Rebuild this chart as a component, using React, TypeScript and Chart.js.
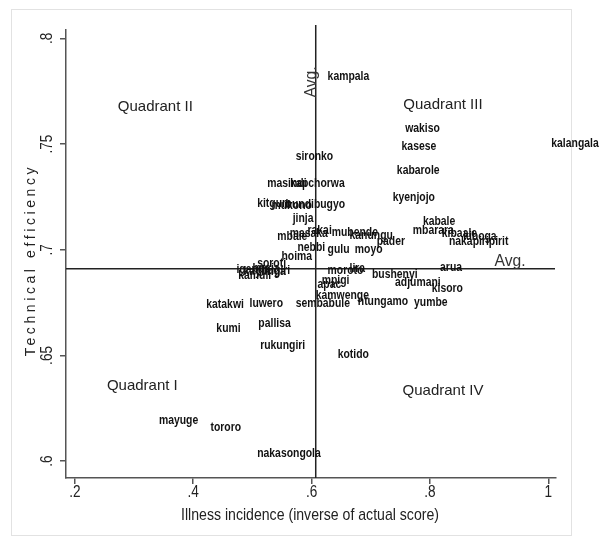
import React, { useEffect, useRef } from "react";
import { Chart, registerables } from "chart.js";

Chart.register(...registerables);

const districts = [
  "kampala", "sironko", "wakiso", "kasese", "kabarole", "kyenjojo", "kalangala",
  "masindi", "kapchorwa", "kitgum", "mukono", "bundibugyo", "jinja", "rakai",
  "mbale", "masaka", "mubende", "kanungu", "pader", "moyo", "nebbi", "gulu",
  "hoima", "soroti", "iganga", "kayunga", "busia", "bugiri", "kamuli",
  "kabale", "mbarara", "kibaale", "kiboga", "nakapiripirit", "arua", "bushenyi",
  "adjumani", "kisoro", "yumbe", "ntungamo", "kamwenge", "sembabule", "apac",
  "mpigi", "moroto", "lira", "katakwi", "luwero", "kumi", "pallisa",
  "rukungiri", "kotido", "mayuge", "tororo", "nakasongola",
];

const illness = [
  0.622, 0.568, 0.753, 0.747, 0.739, 0.732, 1.0,
  0.52, 0.559, 0.503, 0.527, 0.551, 0.563, 0.588,
  0.537, 0.558, 0.629, 0.659, 0.705, 0.668, 0.571, 0.622,
  0.544, 0.503, 0.468, 0.48, 0.495, 0.51, 0.471,
  0.783, 0.766, 0.815, 0.851, 0.827, 0.812, 0.697,
  0.736, 0.798, 0.768, 0.673, 0.602, 0.568, 0.605,
  0.612, 0.622, 0.659, 0.417, 0.49, 0.434, 0.505,
  0.508, 0.639, 0.337, 0.424, 0.503,
];

const efficiency = [
  0.7818, 0.744, 0.7572, 0.7487, 0.7374, 0.7246, 0.7501,
  0.7312, 0.7312, 0.7217, 0.7208, 0.7213, 0.7147, 0.709,
  0.7061, 0.7076, 0.708, 0.7066, 0.7038, 0.7, 0.7009, 0.7,
  0.6967, 0.6934, 0.6905, 0.6896, 0.691, 0.6901, 0.6877,
  0.7132, 0.709, 0.7076, 0.7061, 0.7038, 0.6915, 0.6882,
  0.6844, 0.6816, 0.6749, 0.6754, 0.6783, 0.6745, 0.6835,
  0.6853, 0.6901, 0.691, 0.674, 0.6745, 0.6626, 0.665,
  0.6546, 0.6504, 0.6191, 0.6158, 0.6035,
];

const avgIllness = 0.607;
const avgEfficiency = 0.691;

const xTicks = [0.2, 0.4, 0.6, 0.8, 1];
const xTickLabels = [".2", ".4", ".6", ".8", "1"];
const yTicks = [0.6, 0.65, 0.7, 0.75, 0.8];
const yTickLabels = [".6", ".65", ".7", ".75", ".8"];

const quadrantNames = ["Quadrant II", "Quadrant III", "Quadrant I", "Quadrant IV"];
const quadrantX = [0.336, 0.822, 0.314, 0.822];
const quadrantY = [0.7676, 0.7686, 0.6357, 0.6333];

const xTitle = "Illness incidence (inverse of actual score)";
const yTitle = "Technical efficiency";

const SANS = "'Liberation Sans', Arial, sans-serif";

function narrowText(ctx: any, text: string, x: number, y: number, sx: number, rot = 0) {
  ctx.save();
  ctx.translate(x, y);
  if (rot) ctx.rotate(rot);
  ctx.scale(sx, 1);
  ctx.fillText(text, 0, 0);
  ctx.restore();
}

const overlay = {
  id: "overlay",
  beforeDraw(chart: any) {
    const ctx = chart.ctx;
    ctx.save();
    ctx.fillStyle = "#ffffff";
    ctx.fillRect(0, 0, chart.width, chart.height);
    ctx.strokeStyle = "#e2e2e2";
    ctx.lineWidth = 1;
    ctx.strokeRect(11.5, 9.5, 560, 526);
    ctx.restore();
  },
  afterDraw(chart: any) {
    const ctx = chart.ctx;
    const xs = chart.scales.x;
    const ys = chart.scales.y;
    const area = chart.chartArea;
    ctx.save();

    // average lines
    ctx.strokeStyle = "#222";
    ctx.lineWidth = 1.5;
    const ax = xs.getPixelForValue(avgIllness);
    const ay = ys.getPixelForValue(avgEfficiency);
    ctx.beginPath();
    ctx.moveTo(ax, area.top - 5);
    ctx.lineTo(ax, area.bottom);
    ctx.moveTo(area.left, ay);
    ctx.lineTo(area.right - 1, ay);
    ctx.stroke();

    // point labels
    ctx.fillStyle = "#111";
    ctx.font = `bold 13px ${SANS}`;
    ctx.textAlign = "left";
    ctx.textBaseline = "middle";
    for (let i = 0; i < districts.length; i++) {
      const px = xs.getPixelForValue(illness[i]);
      const py = ys.getPixelForValue(efficiency[i]);
      narrowText(ctx, districts[i], px + 3, py, 0.8);
    }

    // quadrant labels
    ctx.fillStyle = "#222";
    ctx.font = `15px ${SANS}`;
    ctx.textAlign = "center";
    for (let i = 0; i < quadrantNames.length; i++) {
      ctx.fillText(
        quadrantNames[i],
        xs.getPixelForValue(quadrantX[i]),
        ys.getPixelForValue(quadrantY[i])
      );
    }

    // Avg labels
    ctx.fillStyle = "#333";
    ctx.font = `17px ${SANS}`;
    ctx.textAlign = "center";
    ctx.textBaseline = "bottom";
    narrowText(ctx, "Avg.", 510, ay + 1, 0.92);
    ctx.textBaseline = "middle";
    narrowText(ctx, "Avg.", ax - 4, 82, 0.92, -Math.PI / 2);

    // tick labels
    ctx.fillStyle = "#222";
    ctx.font = `17px ${SANS}`;
    ctx.textAlign = "center";
    ctx.textBaseline = "top";
    for (let i = 0; i < xTicks.length; i++) {
      narrowText(ctx, xTickLabels[i], xs.getPixelForValue(xTicks[i]), area.bottom + 6, 0.8);
    }
    ctx.textBaseline = "bottom";
    for (let i = 0; i < yTicks.length; i++) {
      narrowText(ctx, yTickLabels[i], area.left - 10, ys.getPixelForValue(yTicks[i]), 0.8, -Math.PI / 2);
    }

    // axis titles
    ctx.font = `17px ${SANS}`;
    ctx.textBaseline = "middle";
    narrowText(ctx, xTitle, (area.left + area.right) / 2 - 1, 515, 0.83);
    ctx.save();
    ctx.translate(31, 260);
    ctx.rotate(-Math.PI / 2);
    try { (ctx as any).letterSpacing = "3.6px"; } catch (e) {}
    ctx.font = `14px ${SANS}`;
    ctx.fillText(yTitle, 0, 0);
    ctx.restore();

    ctx.restore();
  },
};

export default function App() {
  const ref = useRef<HTMLCanvasElement | null>(null);
  useEffect(() => {
    document.body.style.margin = "0";
    const canvas = ref.current!;
    const points = districts.map((d, i) => ({ x: illness[i], y: efficiency[i] }));
    const chart = new Chart(canvas, {
      type: "scatter",
      data: {
        datasets: [
          {
            label: "districts",
            data: points,
            pointRadius: 0,
            pointHoverRadius: 0,
            showLine: false,
          },
        ],
      },
      options: {
        animation: false,
        responsive: false,
        maintainAspectRatio: false,
        devicePixelRatio: 1,
        layout: { padding: { top: 30, right: 51, left: 0, bottom: 0 } },
        plugins: { legend: { display: false }, tooltip: { enabled: false } },
        scales: {
          x: {
            type: "linear",
            min: 0.185,
            max: 1.013,
            afterBuildTicks: (s: any) => {
              s.ticks = xTicks.map((v) => ({ value: v }));
            },
            afterFit: (s: any) => {
              s.height = 64;
            },
            ticks: { display: false },
            grid: {
              drawOnChartArea: false,
              drawTicks: true,
              tickLength: 6,
              color: "#555",
              lineWidth: 1.5,
            },
            border: { display: true, color: "#555", width: 1.5 },
          },
          y: {
            type: "linear",
            min: 0.592,
            max: 0.804,
            afterBuildTicks: (s: any) => {
              s.ticks = yTicks.map((v) => ({ value: v }));
            },
            afterFit: (s: any) => {
              s.width = 66;
            },
            ticks: { display: false },
            grid: {
              drawOnChartArea: false,
              drawTicks: true,
              tickLength: 6,
              color: "#555",
              lineWidth: 1.5,
            },
            border: { display: true, color: "#555", width: 1.5 },
          },
        },
      },
      plugins: [overlay],
    });
    return () => chart.destroy();
  }, []);
  return (
    <div style={{ width: 607, height: 542 }}>
      <canvas ref={ref} width={607} height={542} style={{ display: "block", width: 607, height: 542 }} />
    </div>
  );
}
